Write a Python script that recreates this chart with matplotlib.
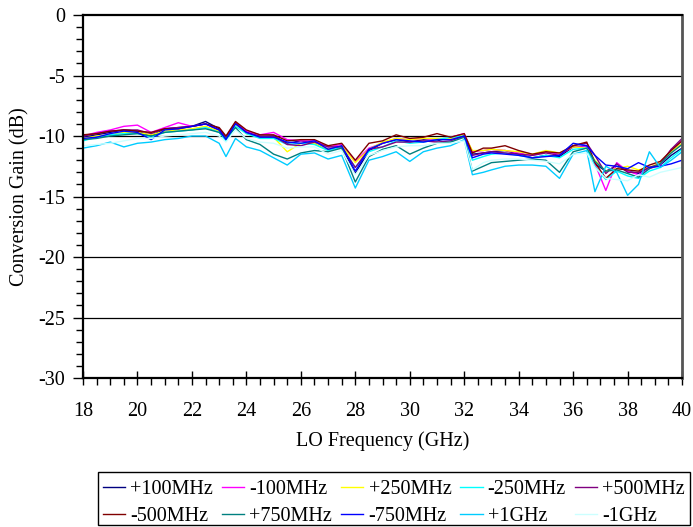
import numpy as np
import matplotlib
matplotlib.use("Agg")
from matplotlib import pyplot as plt
from matplotlib.patches import Rectangle
from matplotlib.ticker import MultipleLocator

plt.rcParams["font.family"] = ["Liberation Serif", "DejaVu Serif"]
plt.rcParams["axes.unicode_minus"] = False

freq_ghz = [18, 18.5, 19, 19.5, 20, 20.5, 21, 21.5, 22, 22.5,
            23, 23.25, 23.6, 24, 24.5, 25, 25.5, 26, 26.5, 27,
            27.5, 28, 28.5, 29, 29.5, 30, 30.5, 31, 31.5, 32,
            32.3, 32.7, 33, 33.5, 34, 34.5, 35, 35.5, 36, 36.5,
            36.8, 37.2, 37.6, 38, 38.4, 38.8, 39.2, 39.6, 40]

gain_p100mhz = [-10.1, -9.9, -9.7, -9.5, -9.6, -10.0, -9.4, -9.3, -9.2, -8.8,
                -9.4, -10.1, -8.9, -9.7, -10.1, -10.0, -10.6, -10.4, -10.6, -11.1,
                -10.9, -13.1, -11.2, -10.6, -10.3, -10.5, -10.3, -10.4, -10.1, -9.9,
                -11.5, -11.4, -11.3, -11.2, -11.5, -11.8, -11.6, -11.7, -10.9, -10.8,
                -12.3, -12.9, -12.5, -12.9, -13.1, -12.6, -12.4, -11.6, -11.0]
gain_m100mhz = [-10.0, -9.7, -9.5, -9.2, -9.1, -9.7, -9.3, -8.9, -9.2, -9.0,
                -9.5, -10.2, -8.9, -9.6, -9.9, -9.7, -10.3, -10.4, -10.4, -10.9,
                -10.7, -12.1, -11.0, -10.6, -10.2, -10.3, -10.2, -10.3, -10.1, -9.8,
                -11.3, -11.2, -11.1, -11.2, -11.4, -11.6, -11.3, -11.5, -10.9, -10.9,
                -12.3, -14.5, -12.2, -12.9, -13.2, -12.7, -12.4, -11.1, -10.4]
gain_p250mhz = [-10.2, -10.0, -9.9, -9.7, -9.7, -9.9, -9.6, -9.5, -9.4, -9.2,
                -9.6, -10.3, -9.0, -9.8, -10.1, -10.1, -11.3, -10.6, -10.6, -11.1,
                -10.8, -12.2, -11.1, -10.5, -10.2, -10.3, -10.2, -10.2, -10.2, -9.9,
                -11.2, -11.2, -11.1, -11.2, -11.3, -11.5, -11.2, -11.4, -10.9, -11.0,
                -12.0, -12.9, -12.7, -12.5, -12.8, -12.6, -12.2, -11.3, -10.6]
gain_m250mhz = [-10.4, -10.1, -9.9, -9.8, -9.8, -10.1, -9.7, -9.6, -9.5, -9.3,
                -9.7, -10.4, -9.2, -9.8, -10.2, -10.2, -10.7, -10.6, -10.7, -11.2,
                -10.9, -12.6, -11.3, -10.9, -10.4, -10.6, -10.5, -10.3, -10.1, -10.0,
                -12.0, -11.7, -11.5, -11.4, -11.6, -11.8, -11.6, -11.8, -11.1, -11.0,
                -12.5, -13.6, -12.9, -13.3, -13.5, -12.9, -12.6, -11.8, -11.1]
gain_p500mhz = [-10.0, -9.8, -9.6, -9.5, -9.5, -9.8, -9.4, -9.3, -9.2, -9.0,
                -9.5, -10.1, -8.9, -9.7, -10.0, -10.0, -10.7, -10.8, -10.5, -10.9,
                -10.9, -12.6, -11.1, -10.9, -10.5, -10.5, -10.4, -10.5, -10.4, -10.0,
                -11.6, -11.4, -11.3, -11.4, -11.5, -11.6, -11.4, -11.6, -10.8, -10.6,
                -11.6, -13.1, -12.3, -13.0, -13.0, -12.6, -12.3, -11.1, -10.2]
gain_m500mhz = [-9.9, -9.8, -9.6, -9.5, -9.6, -9.7, -9.4, -9.4, -9.2, -9.0,
                -9.3, -10.0, -8.8, -9.5, -9.9, -9.9, -10.4, -10.3, -10.3, -10.8,
                -10.6, -12.0, -10.6, -10.4, -9.9, -10.2, -10.1, -9.8, -10.1, -9.8,
                -11.4, -11.0, -11.0, -10.8, -11.2, -11.5, -11.3, -11.4, -10.8, -10.5,
                -12.2, -13.5, -12.7, -12.8, -12.9, -12.4, -12.1, -11.2, -10.4]
gain_p750mhz = [-10.3, -10.2, -10.0, -9.9, -9.8, -10.0, -9.7, -9.6, -9.5, -9.4,
                -9.7, -10.2, -9.3, -10.3, -10.7, -11.5, -11.9, -11.4, -11.2, -11.3,
                -11.0, -13.8, -11.7, -11.1, -10.8, -11.5, -11.0, -10.6, -10.5, -10.1,
                -12.9, -12.5, -12.2, -12.1, -12.0, -11.9, -12.0, -13.0, -11.3, -11.0,
                -12.1, -12.9, -12.8, -13.1, -13.4, -12.7, -12.3, -11.4, -10.7]
gain_m750mhz = [-10.2, -10.1, -9.8, -9.6, -9.7, -10.3, -9.5, -9.4, -9.2, -9.0,
                -9.5, -10.3, -9.0, -9.7, -10.1, -10.1, -10.5, -10.6, -10.4, -11.1,
                -10.8, -12.9, -11.1, -10.6, -10.3, -10.4, -10.5, -10.3, -10.3, -10.0,
                -11.8, -11.5, -11.4, -11.5, -11.6, -11.8, -11.7, -11.6, -10.6, -10.8,
                -11.6, -12.4, -12.5, -12.7, -12.2, -12.6, -12.5, -12.3, -12.0]
gain_p1ghz = [-11.0, -10.8, -10.5, -10.9, -10.6, -10.5, -10.3, -10.2, -10.0, -10.0,
              -10.6, -11.7, -10.2, -10.9, -11.2, -11.8, -12.4, -11.5, -11.4, -11.9,
              -11.6, -14.3, -12.0, -11.7, -11.3, -12.1, -11.3, -11.0, -10.8, -10.3,
              -13.2, -13.0, -12.8, -12.5, -12.4, -12.4, -12.5, -13.5, -11.5, -11.2,
              -14.6, -12.5, -13.0, -14.9, -14.0, -11.3, -12.6, -12.0, -11.3]
gain_m1ghz = [-10.8, -10.7, -10.6, -10.4, -10.2, -10.2, -10.0, -9.9, -9.8, -9.7,
              -10.0, -10.5, -9.5, -10.2, -10.5, -10.6, -11.0, -10.9, -10.9, -11.5,
              -11.2, -13.2, -11.6, -11.2, -10.9, -10.8, -10.8, -10.6, -10.6, -10.4,
              -12.8, -12.2, -12.0, -11.9, -11.9, -12.0, -12.1, -12.3, -11.5, -11.4,
              -12.6, -13.5, -13.6, -13.7, -13.2, -13.4, -13.0, -12.8, -12.6]

labels = ["+100MHz", "-100MHz", "+250MHz", "-250MHz", "+500MHz",
          "-500MHz", "+750MHz", "-750MHz", "+1GHz", "-1GHz"]
series = [gain_p100mhz, gain_m100mhz, gain_p250mhz, gain_m250mhz, gain_p500mhz,
          gain_m500mhz, gain_p750mhz, gain_m750mhz, gain_p1ghz, gain_m1ghz]
colors = ["#000080", "#FF00FF", "#FFFF00", "#00FFFF", "#800080",
          "#800000", "#008080", "#0000FF", "#00CCFF", "#CCFFFF"]

W, H = 693, 527
fig = plt.figure(figsize=(W / 100, H / 100), dpi=100)
ax = fig.add_axes([0.1198, 0.2827, 0.8644, 0.6888])

for ys in [-5, -10, -15, -20, -25]:
    ax.axhline(ys, color="black", linewidth=0.9, zorder=1)

lines = []
for vals, lab, col in zip(series, labels, colors):
    (ln,) = ax.plot(freq_ghz, vals, color=col, linewidth=1.0, label=lab, zorder=2)
    lines.append(ln)

ax.set_xlim(18, 40)
ax.set_ylim(-30, 0)
ax.xaxis.set_major_locator(MultipleLocator(2))
ax.xaxis.set_minor_locator(MultipleLocator(0.5))
ax.yaxis.set_major_locator(MultipleLocator(5))
ax.yaxis.set_minor_locator(MultipleLocator(1))

ax.tick_params(axis="x", which="major", direction="inout", length=10, width=1.0,
               labelsize=14.5, pad=12)
ax.tick_params(axis="x", which="minor", direction="out", length=5, width=1.0)
ax.tick_params(axis="y", which="major", direction="out", length=7, width=1.0,
               labelsize=14.5, pad=6)
ax.tick_params(axis="y", which="minor", direction="out", length=5, width=1.0)

for side in ["left", "bottom", "top"]:
    ax.spines[side].set_linewidth(1.6)
    ax.spines[side].set_color("black")
ax.spines["right"].set_linewidth(2.0)
ax.spines["right"].set_color("#555555")

ax.set_xlabel("LO Frequency (GHz)", fontsize=14.5, labelpad=8)
ax.set_ylabel("Conversion Gain (dB)", fontsize=14.5, labelpad=6)

# legend box drawn separately so the entries can sit where Excel puts them
fig.patches.append(Rectangle((98 / W, 2 / H), 592 / W, 53 / H,
                             transform=fig.transFigure, fill=False,
                             edgecolor="black", linewidth=1.0))

# legend fills row by row like the original
order = [0, 5, 1, 6, 2, 7, 3, 8, 4, 9]
leg = fig.legend([lines[i] for i in order], [labels[i] for i in order],
                 ncol=5, loc="lower left", mode="expand",
                 bbox_to_anchor=(98 / W, -4 / H, 592 / W, 57 / H),
                 fontsize=14.5, handlelength=1.1, handletextpad=0.25,
                 columnspacing=0.3, borderpad=0.25, labelspacing=0.4,
                 frameon=False, borderaxespad=0)

fig.savefig("out.png", dpi=100)
